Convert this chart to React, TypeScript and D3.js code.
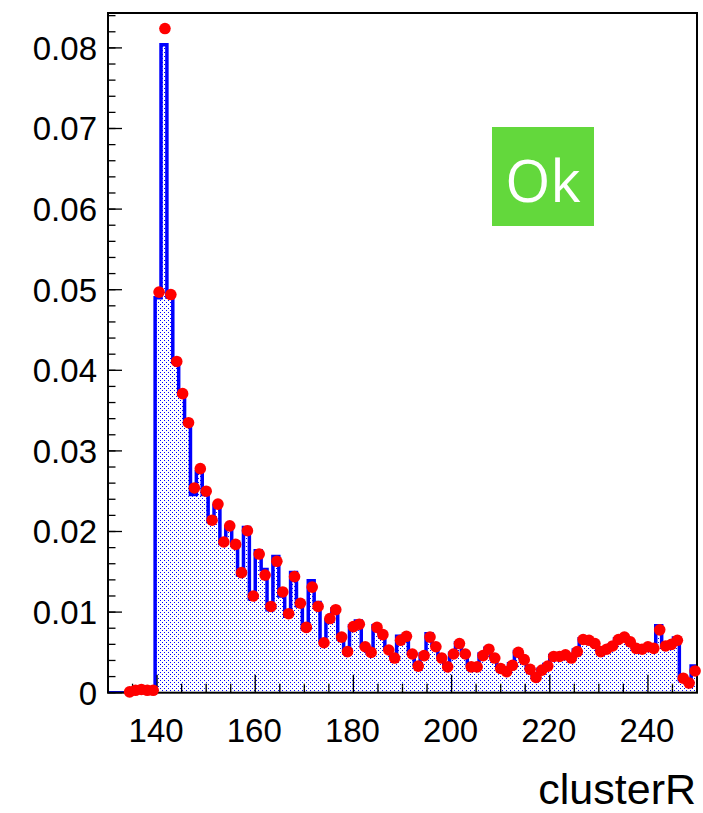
import React from "react";
import * as d3 from "d3";

// ---- data ----
const xMin = 130;
const xMax = 250;
const binWidth = 1.2;
// reference histogram (blue, filled)
const refValues = [
  0, 0, 0, 0, 0, 0, 0, 0,
  0.0490, 0.0804, 0.0491, 0.0410, 0.0370, 0.0334, 0.0246, 0.0274, 0.0246, 0.0212,
  0.0232, 0.0185, 0.0205, 0.0186, 0.0146, 0.0205, 0.0116, 0.0176, 0.0153, 0.0103,
  0.0169, 0.0120, 0.0095, 0.0149, 0.0108, 0.0079, 0.0139, 0.0112, 0.0064, 0.0090,
  0.0104, 0.0068, 0.0054, 0.0083, 0.0089, 0.0058, 0.0049, 0.0083, 0.0074, 0.0055,
  0.0045, 0.0070, 0.0071, 0.0050, 0.0035, 0.0048, 0.0073, 0.0059, 0.0046, 0.0034,
  0.0049, 0.0062, 0.0049, 0.0034, 0.0034, 0.0048, 0.0055, 0.0045, 0.0033, 0.0028,
  0.0036, 0.0051, 0.0043, 0.0031, 0.0022, 0.0029, 0.0035, 0.0046, 0.0046, 0.0047,
  0.0044, 0.0053, 0.0067, 0.0066, 0.0062, 0.0053, 0.0055, 0.0059, 0.0067, 0.0070,
  0.0064, 0.0056, 0.0055, 0.0058, 0.0058, 0.0083, 0.0060, 0.0062, 0.0068, 0.0016,
  0.0012, 0.0033,
];
// data histogram (red markers)
const dataValues = [
  0, 0, 0, 0.0001, 0.0003, 0.0004, 0.0003, 0.0003,
  0.0497, 0.0824, 0.0494, 0.0411, 0.0371, 0.0335, 0.0254, 0.0278, 0.0250, 0.0214,
  0.0234, 0.0187, 0.0207, 0.0184, 0.0149, 0.0201, 0.0120, 0.0172, 0.0146, 0.0107,
  0.0163, 0.0125, 0.0098, 0.0144, 0.0111, 0.0081, 0.0131, 0.0107, 0.0062, 0.0092,
  0.0103, 0.0069, 0.0051, 0.0082, 0.0085, 0.0057, 0.0050, 0.0081, 0.0072, 0.0053,
  0.0043, 0.0065, 0.0070, 0.0048, 0.0033, 0.0046, 0.0069, 0.0057, 0.0043, 0.0032,
  0.0048, 0.0061, 0.0048, 0.0032, 0.0032, 0.0046, 0.0054, 0.0043, 0.0030, 0.0026,
  0.0034, 0.0050, 0.0041, 0.0029, 0.0019, 0.0028, 0.0033, 0.0045, 0.0045, 0.0047,
  0.0043, 0.0051, 0.0066, 0.0065, 0.0061, 0.0051, 0.0054, 0.0058, 0.0066, 0.0069,
  0.0063, 0.0055, 0.0054, 0.0057, 0.0055, 0.0078, 0.0058, 0.0060, 0.0065, 0.0018,
  0.0012, 0.0027,
];
const xMajorTicks = [140, 160, 180, 200, 220, 240];
const xTickLabels = ["140", "160", "180", "200", "220", "240"];
const yMajorTicks = [0, 0.01, 0.02, 0.03, 0.04, 0.05, 0.06, 0.07, 0.08];
const yTickLabels = ["0", "0.01", "0.02", "0.03", "0.04", "0.05", "0.06", "0.07", "0.08"];
const xTitle = "clusterR";
const statusText = "Ok";

const W = 703;
const H = 813;
const L = 108, R = 697, T = 13, B = 692.7;

export default function App() {
  const x = d3.scaleLinear().domain([xMin, xMax]).range([L, R]);
  const y = d3.scaleLinear().domain([0, 0.08433]).range([B, T]);

  const edges = refValues.map((_, i) => xMin + i * binWidth);

  // step outline
  const pts: [number, number][] = [[x(xMin), y(0)]];
  refValues.forEach((v, i) => {
    pts.push([x(edges[i]), y(v)]);
    pts.push([x(edges[i] + binWidth), y(v)]);
  });
  const line = d3.line();
  const outline = line(pts) as string;
  const area = outline + `L${x(xMax)},${y(0)}Z`;

  const xMinor = d3.range(135, 250, 5).filter((t) => t % 20 !== 0);
  const yMinor = d3.range(0, 0.0841, 0.002);

  const font = "'Liberation Sans', Arial, Helvetica, sans-serif";

  return (
    <svg width={W} height={H} style={{ position: "absolute", left: 0, top: 0, background: "#fff" }}>
      <defs>
        <pattern id="dots" width={4} height={4} patternUnits="userSpaceOnUse">
          <rect x={0} y={0} width={1} height={1} fill="#0000ff" />
          <rect x={2} y={2} width={1} height={1} fill="#0000ff" />
        </pattern>
        <clipPath id="frame">
          <rect x={L} y={T} width={R - L} height={B - T} />
        </clipPath>
      </defs>
      <rect x={0} y={0} width={W} height={H} fill="#fff" />
      <g clipPath="url(#frame)">
        <path d={area} fill="url(#dots)" stroke="none" />
        <path d={outline} fill="none" stroke="#0000ff" strokeWidth={3.5} strokeLinejoin="miter" />
      </g>
      {/* frame */}
      <rect x={L} y={T} width={R - L} height={B - T} fill="none" stroke="#000" strokeWidth={2} />
      {/* y ticks */}
      {yMinor.map((t, i) => (
        <line key={"ym" + i} x1={L} x2={L + 7.5} y1={y(t)} y2={y(t)} stroke="#000" strokeWidth={1.3} />
      ))}
      {yMajorTicks.map((t, i) => (
        <line key={"yM" + i} x1={L} x2={L + 14} y1={y(t)} y2={y(t)} stroke="#000" strokeWidth={1.3} />
      ))}
      {yMajorTicks.map((t, i) => (
        <text key={"yl" + i} x={97} y={y(t) + 12} textAnchor="end" fontFamily={font} fontSize={33} fill="#000">
          {yTickLabels[i]}
        </text>
      ))}
      {/* x ticks */}
      {xMinor.map((t, i) => (
        <line key={"xm" + i} x1={x(t)} x2={x(t)} y1={B} y2={B - 9} stroke="#000" strokeWidth={1.3} />
      ))}
      {xMajorTicks.map((t, i) => (
        <line key={"xM" + i} x1={x(t)} x2={x(t)} y1={B} y2={B - 18} stroke="#000" strokeWidth={1.3} />
      ))}
      {xMajorTicks.map((t, i) => (
        <text key={"xl" + i} x={x(t) - 1} y={B + 49} textAnchor="middle" fontFamily={font} fontSize={33} fill="#000">
          {xTickLabels[i]}
        </text>
      ))}
      <text x={696} y={804} textAnchor="end" fontFamily={font} fontSize={43} fill="#000">
        {xTitle}
      </text>
      {/* data markers */}
      {dataValues.map((v, i) =>
        v > 0 ? (
          <circle key={"d" + i} cx={x(edges[i] + binWidth / 2) + 1} cy={y(v)} r={5.8} fill="#ff0000" />
        ) : null
      )}
      {/* status box */}
      <rect x={492} y={127} width={102} height={99} fill="#63d83c" />
      <text x={543} y={202} textAnchor="middle" fontFamily="'Open Sans', sans-serif" fontSize={58} fill="#fff">
        {statusText}
      </text>
    </svg>
  );
}
